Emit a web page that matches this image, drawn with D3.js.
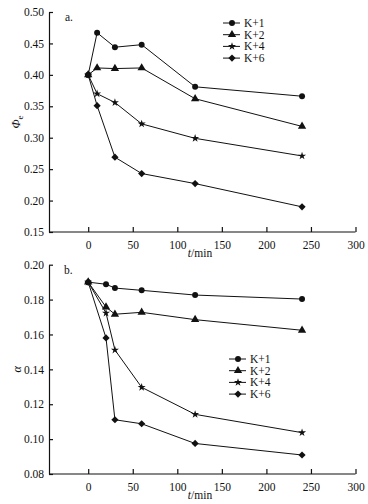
<!DOCTYPE html>
<html>
<head>
<meta charset="utf-8">
<script src="https://cdn.jsdelivr.net/npm/d3@7"></script>
<style>
  body { margin: 0; background: #fff; }
  svg text { font-family: "Liberation Serif", "Times New Roman", serif !important; fill: #111; }
</style>
</head>
<body>
<svg width="368" height="504"></svg>
<script>
// time points (min)
var timesA = [0, 10, 30, 60, 120, 240];
var timesB = [0, 20, 30, 60, 120, 240];

var seriesNames = ['K+1', 'K+2', 'K+4', 'K+6'];

// panel a: Phi_e
var phiK1 = [0.400, 0.467, 0.444, 0.448, 0.381, 0.366];
var phiK2 = [0.400, 0.411, 0.410, 0.411, 0.362, 0.318];
var phiK4 = [0.400, 0.370, 0.356, 0.322, 0.299, 0.271];
var phiK6 = [0.400, 0.351, 0.269, 0.243, 0.227, 0.190];

// panel b: alpha
var alphaK1 = [0.190, 0.1888, 0.1866, 0.1853, 0.1826, 0.1803];
var alphaK2 = [0.190, 0.1757, 0.1716, 0.1727, 0.1685, 0.1624];
var alphaK4 = [0.190, 0.1723, 0.1511, 0.1297, 0.1142, 0.1037];
var alphaK6 = [0.190, 0.1580, 0.1111, 0.1088, 0.0975, 0.0909];

var xTicks = [0, 50, 100, 150, 200, 250, 300];
var phiTicks = [0.15, 0.20, 0.25, 0.30, 0.35, 0.40, 0.45, 0.50];
var alphaTicks = [0.08, 0.10, 0.12, 0.14, 0.16, 0.18, 0.20];

var svg = d3.select('svg');
var serif = '"Liberation Serif", "Times New Roman", serif';

var symbols = [d3.symbolCircle, d3.symbolTriangle, d3.symbolStar, d3.symbolSquare];
var symSizes = [28, 30, 20, 26];
var symRot = [0, 0, 0, 45];

function marker(sel, i, px, py) {
    sel.attr('transform', 'translate(' + px + ',' + py + ') rotate(' + symRot[i] + ')')
        .attr('d', d3.symbol().type(symbols[i]).size(symSizes[i])())
        .attr('fill', '#111');
}

function drawPanel(opts) {
    var x = d3.scaleLinear().domain([-44, 300]).range([49, 355.5]);
    var y = d3.scaleLinear().domain(opts.yDomain).range([opts.bottom, opts.top]);
    var g = svg.append('g');

    var line = d3.line()
        .x(function (d) { return x(d[0]); })
        .y(function (d) { return y(d[1]); });

    opts.series.forEach(function (vals, i) {
        var pts = opts.times.map(function (t, j) { return [t, vals[j]]; });
        g.append('path')
            .attr('d', line(pts))
            .attr('fill', 'none')
            .attr('stroke', '#111')
            .attr('stroke-width', 1);
        g.selectAll('.m' + i)
            .data(pts)
            .enter().append('path')
            .each(function (d) { marker(d3.select(this), i, x(d[0]), y(d[1])); });
    });

    // axes
    var xAxis = g.append('g')
        .attr('transform', 'translate(0,' + opts.bottom + ')')
        .call(d3.axisBottom(x).tickValues(xTicks).tickSizeInner(-5).tickSizeOuter(0).tickPadding(9));
    var yAxis = g.append('g')
        .attr('transform', 'translate(49,0)')
        .call(d3.axisLeft(y).tickValues(opts.yTicks).tickSizeInner(-4).tickSizeOuter(0)
            .tickPadding(5).tickFormat(d3.format('.2f')));
    [xAxis, yAxis].forEach(function (a) {
        a.attr('font-family', serif);
        a.select('.domain').attr('stroke', '#111').attr('stroke-width', 1.2);
        a.selectAll('.tick line').attr('stroke', '#111').attr('stroke-width', 1.2);
        a.selectAll('text').attr('font-size', 11.5).style('font-family', serif).attr('fill', '#111');
    });
    xAxis.select('.domain').attr('d', 'M49,0H355.5');

    // x label
    var xl = g.append('text')
        .attr('x', 200).attr('y', opts.bottom + 25)
        .attr('text-anchor', 'middle').attr('font-size', 11.5).style('font-family', serif);
    xl.append('tspan').attr('font-style', 'italic').text('t');
    xl.append('tspan').text('/min');

    // y label
    var yl = g.append('text')
        .attr('transform', 'translate(' + opts.yLabelX + ',' + ((opts.top + opts.bottom) / 2) + ') rotate(-90)')
        .attr('text-anchor', 'middle').attr('font-size', 12).style('font-family', serif);
    yl.append('tspan').attr('font-style', 'italic').text(opts.yLabel);
    if (opts.ySub) {
        yl.append('tspan').attr('font-size', 9).attr('dy', 3).text(opts.ySub);
    }

    // panel letter
    g.append('text').attr('x', opts.letterX).attr('y', opts.top + 9)
        .attr('font-size', 11.5).style('font-family', serif).text(opts.letter);

    // legend
    var lg = g.append('g');
    seriesNames.forEach(function (name, i) {
        var ly = opts.legendY + i * 11.7;
        lg.append('line')
            .attr('x1', opts.legendX).attr('x2', opts.legendX + 17)
            .attr('y1', ly).attr('y2', ly)
            .attr('stroke', '#111').attr('stroke-width', 1);
        marker(lg.append('path'), i, opts.legendX + 9, ly);
        lg.append('text')
            .attr('x', opts.legendX + 21).attr('y', ly + 4)
            .attr('font-size', 11.5).style('font-family', serif).text(name);
    });
}

drawPanel({
    times: timesA,
    series: [phiK1, phiK2, phiK4, phiK6],
    yDomain: [0.15, 0.50],
    yTicks: phiTicks,
    top: 12, bottom: 232,
    yLabel: 'Φ', ySub: 'e', yLabelX: 20,
    letter: 'a.', letterX: 65,
    legendX: 223, legendY: 23
});

drawPanel({
    times: timesB,
    series: [alphaK1, alphaK2, alphaK4, alphaK6],
    yDomain: [0.08, 0.20],
    yTicks: alphaTicks,
    top: 264.7, bottom: 474,
    yLabel: 'α', ySub: null, yLabelX: 21,
    letter: 'b.', letterX: 64,
    legendX: 229, legendY: 359
});
</script>
</body>
</html>
